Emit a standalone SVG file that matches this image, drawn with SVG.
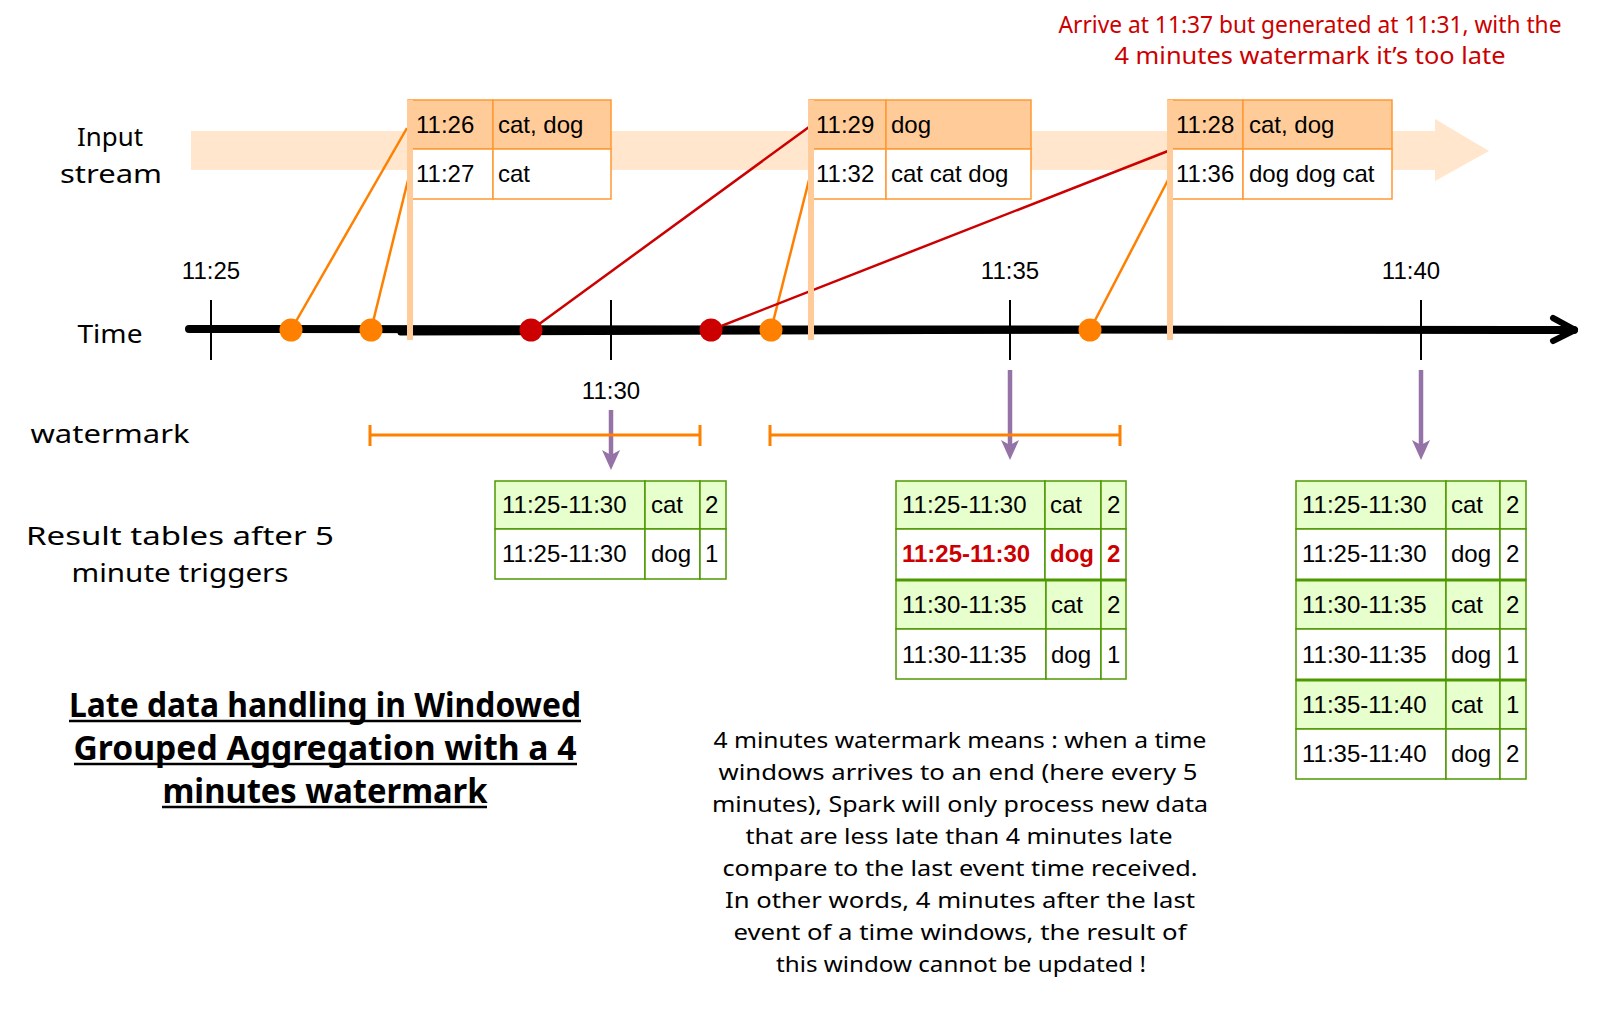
<svg xmlns="http://www.w3.org/2000/svg" width="1601" height="1011" viewBox="0 0 1601 1011">
<style>
  .hand { font-family: "Noto Sans", "DejaVu Sans", sans-serif; fill: #000; }
  .arial { font-family: "Liberation Sans", Arial, sans-serif; font-size: 24px; fill: #000; }
  .red { fill: #cc0000; }
  .hdr { fill: #ffcc99; stroke: #ff9933; stroke-width: 1.5; }
  .cell { fill: #ffffff; stroke: #ff9933; stroke-width: 1.5; }
  .gcell { fill: #e6ffcc; stroke: #4d9900; stroke-width: 1.5; }
  .wcell { fill: #ffffff; stroke: #4d9900; stroke-width: 1.5; }
  .sep { stroke: #4d9900; stroke-width: 3; }
  .bar { fill: #ffcc99; }
  .tick { stroke: #000; stroke-width: 2; }
  .odot { fill: #ff8000; }
  .rdot { fill: #cc0000; }
  .oline { stroke: #ff8000; stroke-width: 2.5; fill: none; }
  .rline { stroke: #cc0000; stroke-width: 2.5; fill: none; }
  .purple { stroke: #9673a6; stroke-width: 4.5; fill: none; }
  .phead { fill: #9673a6; }
  .brk { stroke: #ff8000; stroke-width: 3; fill: none; }
</style>

<!-- input stream band -->
<g id="stream-band">
  <polygon points="191,131 1435,131 1435,119 1489,151 1435,181 1435,170 191,170" fill="#ffe6cc"/>
</g>

<!-- labels -->
<g id="label-input">
  <text class="hand" x="110" y="146" font-size="26" text-anchor="middle" textLength="66" lengthAdjust="spacingAndGlyphs">Input</text>
  <text class="hand" x="111" y="183" font-size="26" text-anchor="middle" textLength="102" lengthAdjust="spacingAndGlyphs">stream</text>
</g>
<g id="label-time">
  <text class="hand" x="110" y="343" font-size="26" text-anchor="middle" textLength="65" lengthAdjust="spacingAndGlyphs">Time</text>
</g>
<g id="label-watermark">
  <text class="hand" x="110" y="443" font-size="26" text-anchor="middle" textLength="159" lengthAdjust="spacingAndGlyphs">watermark</text>
</g>
<g id="label-result">
  <text class="hand" x="180" y="545" font-size="26" text-anchor="middle" textLength="308" lengthAdjust="spacingAndGlyphs">Result tables after 5</text>
  <text class="hand" x="180" y="582" font-size="26" text-anchor="middle" textLength="217" lengthAdjust="spacingAndGlyphs">minute triggers</text>
</g>
<g id="note-late">
  <text class="hand red" x="1310" y="33" font-size="23" text-anchor="middle" textLength="503" lengthAdjust="spacingAndGlyphs">Arrive at 11:37 but generated at 11:31, with the</text>
  <text class="hand red" x="1310" y="64" font-size="23" text-anchor="middle" textLength="391" lengthAdjust="spacingAndGlyphs">4 minutes watermark it’s too late</text>
</g>

<!-- time axis -->
<g id="time-axis">
  <path d="M189,329 L1574,330" stroke="#000" stroke-width="8" stroke-linecap="round" fill="none"/>
  <path d="M400,333 L1100,331" stroke="#000" stroke-width="5" stroke-linecap="round" fill="none"/>
  <path d="M1553,318 L1575,330 L1553,341" stroke="#000" stroke-width="6" stroke-linecap="round" stroke-linejoin="round" fill="none"/>
  <line class="tick" x1="211" y1="300" x2="211" y2="360"/>
  <line class="tick" x1="611" y1="300" x2="611" y2="360"/>
  <line class="tick" x1="1010" y1="300" x2="1010" y2="360"/>
  <line class="tick" x1="1421" y1="300" x2="1421" y2="360"/>
  <text class="arial" x="211" y="279" text-anchor="middle">11:25</text>
  <text class="arial" x="611" y="399" text-anchor="middle">11:30</text>
  <text class="arial" x="1010" y="279" text-anchor="middle">11:35</text>
  <text class="arial" x="1411" y="279" text-anchor="middle">11:40</text>
</g>

<!-- input boxes -->
<g id="input-1">
  <rect class="hdr" x="408" y="100" width="85" height="49"/>
  <rect class="hdr" x="493" y="100" width="118" height="49"/>
  <rect class="cell" x="408" y="149" width="85" height="50"/>
  <rect class="cell" x="493" y="149" width="118" height="50"/>
  <text class="arial" x="416" y="133">11:26</text>
  <text class="arial" x="498" y="133">cat, dog</text>
  <text class="arial" x="416" y="182">11:27</text>
  <text class="arial" x="498" y="182">cat</text>
</g>
<g id="input-2">
  <rect class="hdr" x="809" y="100" width="77" height="49"/>
  <rect class="hdr" x="886" y="100" width="145" height="49"/>
  <rect class="cell" x="809" y="149" width="77" height="50"/>
  <rect class="cell" x="886" y="149" width="145" height="50"/>
  <text class="arial" x="816" y="133">11:29</text>
  <text class="arial" x="891" y="133">dog</text>
  <text class="arial" x="816" y="182">11:32</text>
  <text class="arial" x="891" y="182">cat cat dog</text>
</g>
<g id="input-3">
  <rect class="hdr" x="1168" y="100" width="75" height="49"/>
  <rect class="hdr" x="1243" y="100" width="149" height="49"/>
  <rect class="cell" x="1168" y="149" width="75" height="50"/>
  <rect class="cell" x="1243" y="149" width="149" height="50"/>
  <text class="arial" x="1176" y="133">11:28</text>
  <text class="arial" x="1249" y="133">cat, dog</text>
  <text class="arial" x="1176" y="182">11:36</text>
  <text class="arial" x="1249" y="182">dog dog cat</text>
</g>

<!-- connectors -->
<g id="connectors">
  <line class="oline" x1="291" y1="330" x2="407" y2="128"/>
  <line class="oline" x1="371" y1="330" x2="408" y2="180"/>
  <line class="rline" x1="531" y1="330" x2="809" y2="127"/>
  <line class="oline" x1="771" y1="330" x2="809" y2="180"/>
  <line class="rline" x1="711" y1="330" x2="1168" y2="151"/>
  <line class="oline" x1="1090" y1="330" x2="1168" y2="180"/>
  <!-- arrival markers -->
  <rect class="bar" x="407" y="100" width="6" height="240"/>
  <rect class="bar" x="808" y="100" width="6" height="240"/>
  <rect class="bar" x="1167" y="100" width="6" height="240"/>
  <!-- trigger arrows -->
  <line class="purple" x1="611" y1="410" x2="611" y2="456"/>
  <polygon class="phead" points="602,450 611,470 620,450 611,455"/>
  <line class="purple" x1="1010" y1="370" x2="1010" y2="446"/>
  <polygon class="phead" points="1001,440 1010,460 1019,440 1010,445"/>
  <line class="purple" x1="1421" y1="370" x2="1421" y2="446"/>
  <polygon class="phead" points="1412,440 1421,460 1430,440 1421,445"/>
</g>

<!-- event dots -->
<g id="events">
  <circle class="odot" cx="291" cy="330" r="11.5"/>
  <circle class="odot" cx="371" cy="330" r="11.5"/>
  <circle class="rdot" cx="531" cy="330" r="11.5"/>
  <circle class="rdot" cx="711" cy="330" r="11.5"/>
  <circle class="odot" cx="771" cy="330" r="11.5"/>
  <circle class="odot" cx="1090" cy="330" r="11.5"/>
</g>

<!-- watermark brackets -->
<g id="watermark-1">
  <path class="brk" d="M370,435 L700,435 M370,425 L370,446 M700,425 L700,446"/>
</g>
<g id="watermark-2">
  <path class="brk" d="M770,435 L1120,435 M770,425 L770,446 M1120,425 L1120,446"/>
</g>

<!-- result tables -->
<g id="result-1">
  <rect class="gcell" x="495" y="481" width="150" height="48"/>
  <rect class="gcell" x="645" y="481" width="55" height="48"/>
  <rect class="gcell" x="700" y="481" width="26" height="48"/>
  <rect class="wcell" x="495" y="529" width="150" height="50"/>
  <rect class="wcell" x="645" y="529" width="55" height="50"/>
  <rect class="wcell" x="700" y="529" width="26" height="50"/>
  <text class="arial" x="502" y="513">11:25-11:30</text>
  <text class="arial" x="651" y="513">cat</text>
  <text class="arial" x="705" y="513">2</text>
  <text class="arial" x="502" y="562">11:25-11:30</text>
  <text class="arial" x="651" y="562">dog</text>
  <text class="arial" x="705" y="562">1</text>
</g>

<g id="result-2">
  <rect class="gcell" x="896" y="481" width="149" height="48"/>
  <rect class="gcell" x="1045" y="481" width="56" height="48"/>
  <rect class="gcell" x="1101" y="481" width="25" height="48"/>
  <rect class="wcell" x="896" y="529" width="149" height="51"/>
  <rect class="wcell" x="1045" y="529" width="56" height="51"/>
  <rect class="wcell" x="1101" y="529" width="25" height="51"/>
  <rect class="gcell" x="896" y="580" width="150" height="49"/>
  <rect class="gcell" x="1046" y="580" width="55" height="49"/>
  <rect class="gcell" x="1101" y="580" width="25" height="49"/>
  <rect class="wcell" x="896" y="629" width="150" height="50"/>
  <rect class="wcell" x="1046" y="629" width="55" height="50"/>
  <rect class="wcell" x="1101" y="629" width="25" height="50"/>
  <line class="sep" x1="896" y1="580" x2="1126" y2="580"/>
  <text class="arial" x="902" y="513">11:25-11:30</text>
  <text class="arial" x="1050" y="513">cat</text>
  <text class="arial" x="1107" y="513">2</text>
  <text class="arial red" x="902" y="562" font-weight="bold">11:25-11:30</text>
  <text class="arial red" x="1050" y="562" font-weight="bold">dog</text>
  <text class="arial red" x="1107" y="562" font-weight="bold">2</text>
  <text class="arial" x="902" y="613">11:30-11:35</text>
  <text class="arial" x="1051" y="613">cat</text>
  <text class="arial" x="1107" y="613">2</text>
  <text class="arial" x="902" y="663">11:30-11:35</text>
  <text class="arial" x="1051" y="663">dog</text>
  <text class="arial" x="1107" y="663">1</text>
</g>

<g id="result-3">
  <rect class="gcell" x="1296" y="481" width="150" height="48"/>
  <rect class="gcell" x="1446" y="481" width="54" height="48"/>
  <rect class="gcell" x="1500" y="481" width="26" height="48"/>
  <rect class="wcell" x="1296" y="529" width="150" height="51"/>
  <rect class="wcell" x="1446" y="529" width="54" height="51"/>
  <rect class="wcell" x="1500" y="529" width="26" height="51"/>
  <rect class="gcell" x="1296" y="580" width="150" height="49"/>
  <rect class="gcell" x="1446" y="580" width="54" height="49"/>
  <rect class="gcell" x="1500" y="580" width="26" height="49"/>
  <rect class="wcell" x="1296" y="629" width="150" height="51"/>
  <rect class="wcell" x="1446" y="629" width="54" height="51"/>
  <rect class="wcell" x="1500" y="629" width="26" height="51"/>
  <rect class="gcell" x="1296" y="680" width="150" height="49"/>
  <rect class="gcell" x="1446" y="680" width="54" height="49"/>
  <rect class="gcell" x="1500" y="680" width="26" height="49"/>
  <rect class="wcell" x="1296" y="729" width="150" height="50"/>
  <rect class="wcell" x="1446" y="729" width="54" height="50"/>
  <rect class="wcell" x="1500" y="729" width="26" height="50"/>
  <line class="sep" x1="1296" y1="580" x2="1526" y2="580"/>
  <line class="sep" x1="1296" y1="680" x2="1526" y2="680"/>
  <text class="arial" x="1302" y="513">11:25-11:30</text>
  <text class="arial" x="1451" y="513">cat</text>
  <text class="arial" x="1506" y="513">2</text>
  <text class="arial" x="1302" y="562">11:25-11:30</text>
  <text class="arial" x="1451" y="562">dog</text>
  <text class="arial" x="1506" y="562">2</text>
  <text class="arial" x="1302" y="613">11:30-11:35</text>
  <text class="arial" x="1451" y="613">cat</text>
  <text class="arial" x="1506" y="613">2</text>
  <text class="arial" x="1302" y="663">11:30-11:35</text>
  <text class="arial" x="1451" y="663">dog</text>
  <text class="arial" x="1506" y="663">1</text>
  <text class="arial" x="1302" y="713">11:35-11:40</text>
  <text class="arial" x="1451" y="713">cat</text>
  <text class="arial" x="1506" y="713">1</text>
  <text class="arial" x="1302" y="762">11:35-11:40</text>
  <text class="arial" x="1451" y="762">dog</text>
  <text class="arial" x="1506" y="762">2</text>
</g>

<!-- title -->
<g id="title">
  <text class="hand" x="325" y="717" font-size="34" font-weight="bold" text-anchor="middle" textLength="512" lengthAdjust="spacingAndGlyphs">Late data handling in Windowed</text>
  <text class="hand" x="325" y="760" font-size="34" font-weight="bold" text-anchor="middle" textLength="503" lengthAdjust="spacingAndGlyphs">Grouped Aggregation with a 4</text>
  <text class="hand" x="325" y="803" font-size="34" font-weight="bold" text-anchor="middle" textLength="325" lengthAdjust="spacingAndGlyphs">minutes watermark</text>
  <path d="M69,721 L581,721 M74,764 L577,764 M162,807 L487,807" stroke="#000" stroke-width="2.5" fill="none"/>
</g>

<!-- explanation -->
<g id="explanation">
  <text class="hand" x="960" y="748" font-size="22" text-anchor="middle" textLength="493" lengthAdjust="spacingAndGlyphs">4 minutes watermark means : when a time</text>
  <text class="hand" x="958" y="780" font-size="22" text-anchor="middle" textLength="479" lengthAdjust="spacingAndGlyphs">windows arrives to an end (here every 5</text>
  <text class="hand" x="960" y="812" font-size="22" text-anchor="middle" textLength="496" lengthAdjust="spacingAndGlyphs">minutes), Spark will only process new data</text>
  <text class="hand" x="959" y="844" font-size="22" text-anchor="middle" textLength="427" lengthAdjust="spacingAndGlyphs">that are less late than 4 minutes late</text>
  <text class="hand" x="960" y="876" font-size="22" text-anchor="middle" textLength="475" lengthAdjust="spacingAndGlyphs">compare to the last event time received.</text>
  <text class="hand" x="960" y="908" font-size="22" text-anchor="middle" textLength="470" lengthAdjust="spacingAndGlyphs">In other words, 4 minutes after the last</text>
  <text class="hand" x="960" y="940" font-size="22" text-anchor="middle" textLength="453" lengthAdjust="spacingAndGlyphs">event of a time windows, the result of</text>
  <text class="hand" x="961" y="972" font-size="22" text-anchor="middle" textLength="370" lengthAdjust="spacingAndGlyphs">this window cannot be updated !</text>
</g>
</svg>
